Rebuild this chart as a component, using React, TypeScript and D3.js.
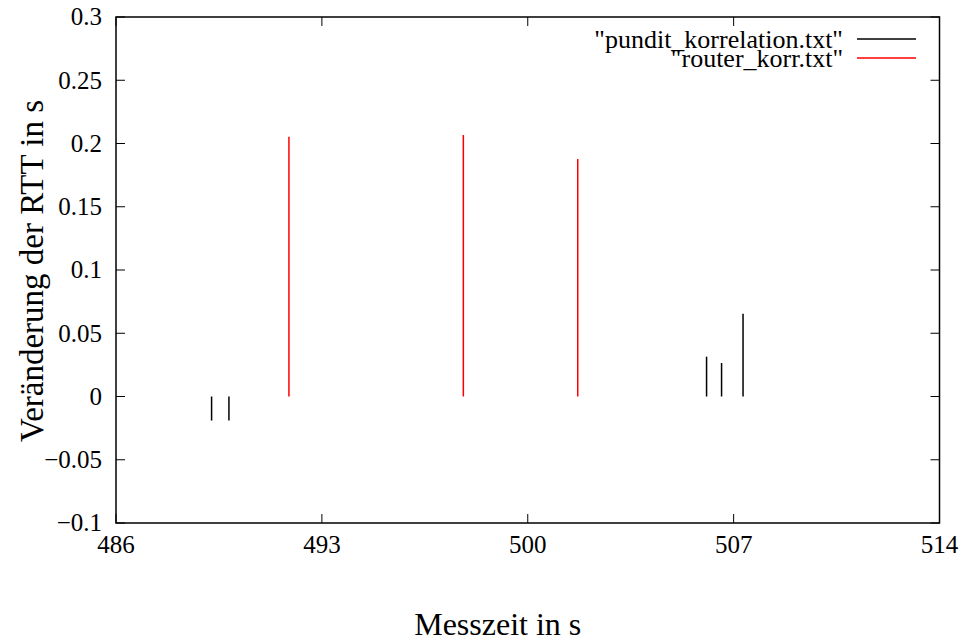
import React from "react";
import * as d3 from "d3";

const punditX = [489.25, 489.84, 506.08, 506.59, 507.32];
const punditY = [-0.019, -0.019, 0.0315, 0.0265, 0.0655];
const routerX = [491.88, 497.81, 501.7];
const routerY = [0.2054, 0.2067, 0.1877];
const xTicks = [486, 493, 500, 507, 514];
const yTicks = [-0.1, -0.05, 0, 0.05, 0.1, 0.15, 0.2, 0.25, 0.3];
const legendLabels = ['"pundit_korrelation.txt"', '"router_korr.txt"'];
const colors = ["#000000", "#ff0000"];

export default function App() {
  const W = 964, H = 641;
  const L = 116, R = 939.5, T = 17, B = 523;
  const x = d3.scaleLinear().domain([486, 514]).range([L, R]);
  const y = d3.scaleLinear().domain([-0.1, 0.3]).range([B, T]);
  const font = "'Liberation Serif', 'Times New Roman', serif";
  const tl = 9;
  const fmtY = (v: number) => {
    const s = d3.format("~g")(Math.round(v * 1000) / 1000);
    return s.replace("-", "\u2212");
  };
  const series = [
    { xs: punditX, ys: punditY, c: colors[0] },
    { xs: routerX, ys: routerY, c: colors[1] },
  ];
  return (
    <svg width={W} height={H} style={{ position: "absolute", left: 0, top: 0, background: "#fff" }} fontFamily={font}>
      {yTicks.map((v) => (
        <g key={"y" + v}>
          <line x1={L} x2={L + tl} y1={y(v)} y2={y(v)} stroke="#000" strokeWidth={1} />
          <line x1={R} x2={R - tl} y1={y(v)} y2={y(v)} stroke="#000" strokeWidth={1} />
          <text x={L - 14} y={y(v)} dy="0.33em" textAnchor="end" fontSize={25}>{fmtY(v)}</text>
        </g>
      ))}
      {xTicks.map((v) => (
        <g key={"x" + v}>
          <line x1={x(v)} x2={x(v)} y1={B} y2={B - tl} stroke="#000" strokeWidth={1} />
          <line x1={x(v)} x2={x(v)} y1={T} y2={T + tl} stroke="#000" strokeWidth={1} />
          <text x={x(v)} y={B + 30} textAnchor="middle" fontSize={25}>{v}</text>
        </g>
      ))}
      {series.map((s, si) =>
        s.xs.map((xv, i) => (
          <line key={si + "-" + i} x1={x(xv)} x2={x(xv)} y1={y(0)} y2={y(s.ys[i])} stroke={s.c} strokeWidth={1.5} />
        ))
      )}
      <rect x={L} y={T} width={R - L} height={B - T} fill="none" stroke="#000" strokeWidth={1.5} />
      {legendLabels.map((lab, i) => (
        <g key={lab}>
          <text x={843} y={39 + i * 19} dy="0.33em" textAnchor="end" fontSize={26}>{lab}</text>
          <line x1={857} x2={916} y1={39 + i * 19} y2={39 + i * 19} stroke={colors[i]} strokeWidth={1.5} />
        </g>
      ))}
      <text x={(L + R) / 2 - 30} y={635} textAnchor="middle" fontSize={32}>Messzeit in s</text>
      <text transform={`translate(43, ${(T + B) / 2 + 1}) rotate(-90)`} textAnchor="middle" fontSize={33}>Veränderung der RTT in s</text>
    </svg>
  );
}
